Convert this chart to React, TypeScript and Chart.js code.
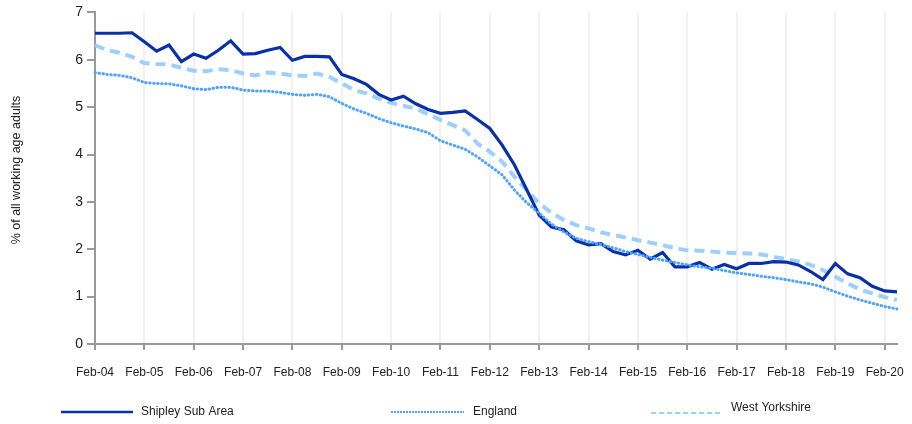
import React, { useEffect, useRef } from 'react';
import { Chart, registerables } from 'chart.js';

Chart.register(...registerables);

// Categories: quarterly, Feb-04 .. May-20
const years = ['04', '05', '06', '07', '08', '09', '10', '11', '12', '13', '14', '15', '16', '17', '18', '19', '20'];
const quarters = ['Feb', 'May', 'Aug', 'Nov'];
const categories = years.flatMap((y) => quarters.map((q) => `${q}-${y}`)).slice(0, 66);

const yTitle = '% of all working age adults';
const seriesNames = ['Shipley Sub Area', 'England', 'West Yorkshire'];

const shipley = [
  6.56, 6.56, 6.56, 6.57, 6.38, 6.18, 6.31, 5.96, 6.12, 6.03,
  6.20, 6.40, 6.12, 6.13, 6.20, 6.26, 5.99, 6.07, 6.07, 6.06,
  5.69, 5.60, 5.48, 5.27, 5.15, 5.23, 5.07, 4.95, 4.87, 4.89,
  4.92, 4.74, 4.55, 4.20, 3.78, 3.25, 2.72, 2.47, 2.41, 2.18,
  2.09, 2.12, 1.95, 1.88, 1.98, 1.79, 1.93, 1.63, 1.63, 1.72,
  1.58, 1.68, 1.59, 1.70, 1.70, 1.74, 1.73, 1.67, 1.53, 1.36,
  1.70, 1.48, 1.40, 1.22, 1.12, 1.10,
];

const england = [
  5.73, 5.69, 5.67, 5.62, 5.52, 5.50, 5.49, 5.45, 5.39, 5.37,
  5.42, 5.42, 5.36, 5.34, 5.34, 5.31, 5.27, 5.25, 5.27, 5.22,
  5.08, 4.96, 4.87, 4.76, 4.67, 4.60, 4.54, 4.46, 4.29, 4.20,
  4.11, 3.95, 3.76, 3.57, 3.25, 2.98, 2.76, 2.53, 2.37, 2.23,
  2.16, 2.10, 2.03, 1.95, 1.89, 1.83, 1.77, 1.72, 1.67, 1.63,
  1.60, 1.55, 1.50, 1.47, 1.43, 1.40, 1.36, 1.31, 1.27, 1.20,
  1.10, 1.01, 0.93, 0.86, 0.79, 0.74,
];

const westYorkshire = [
  6.31, 6.20, 6.15, 6.06, 5.93, 5.91, 5.90, 5.83, 5.77, 5.76,
  5.80, 5.78, 5.71, 5.67, 5.73, 5.71, 5.67, 5.66, 5.71, 5.64,
  5.50, 5.36, 5.29, 5.18, 5.09, 5.03, 4.97, 4.85, 4.73, 4.62,
  4.51, 4.23, 4.06, 3.85, 3.53, 3.25, 2.97, 2.77, 2.62, 2.51,
  2.44, 2.36, 2.30, 2.25, 2.19, 2.14, 2.09, 2.02, 1.98, 1.97,
  1.95, 1.93, 1.92, 1.91, 1.89, 1.84, 1.79, 1.74, 1.67, 1.56,
  1.42, 1.28, 1.15, 1.07, 0.99, 0.93,
];

const COLORS = { shipley: '#0a2faa', england: '#4da3ff', west: '#9fcfff' };
const FONT = '"Liberation Sans", Arial, sans-serif';

const customDraw = {
  id: 'customDraw',
  afterDraw(chart: any) {
    const ctx = chart.ctx as CanvasRenderingContext2D;
    ctx.save();
    ctx.font = `12.5px ${FONT}`;
    ctx.fillStyle = '#222';
    ctx.textAlign = 'center';
    ctx.textBaseline = 'middle';
    ctx.translate(17, 170);
    ctx.rotate(-Math.PI / 2);
    ctx.fillText(yTitle, 0, 0);
    ctx.restore();

    const items = [
      { name: seriesNames[0], x1: 61, x2: 133, ly: 412, tx: 141, ty: 412, color: COLORS.shipley, w: 2.5, dash: [] as number[] },
      { name: seriesNames[1], x1: 391, x2: 464, ly: 412, tx: 473, ty: 412, color: COLORS.england, w: 2, dash: [2, 1] },
      { name: seriesNames[2], x1: 651, x2: 720, ly: 413, tx: 731, ty: 408, color: COLORS.west, w: 2, dash: [5, 3] },
    ];
    for (const it of items) {
      ctx.save();
      ctx.strokeStyle = it.color;
      ctx.lineWidth = it.w;
      ctx.setLineDash(it.dash);
      ctx.lineCap = 'butt';
      ctx.beginPath();
      ctx.moveTo(it.x1, it.ly);
      ctx.lineTo(it.x2, it.ly);
      ctx.stroke();
      ctx.restore();
      ctx.save();
      ctx.font = `12px ${FONT}`;
      ctx.fillStyle = '#222';
      ctx.textAlign = 'left';
      ctx.textBaseline = 'middle';
      ctx.fillText(it.name, it.tx, it.ty);
      ctx.restore();
    }
  },
};

export default function App() {
  const ref = useRef<HTMLCanvasElement | null>(null);
  useEffect(() => {
    if (!ref.current) return;
    const chart = new Chart(ref.current, {
      type: 'line',
      data: {
        labels: categories,
        datasets: [
          {
            label: seriesNames[0],
            data: shipley,
            borderColor: COLORS.shipley,
            backgroundColor: COLORS.shipley,
            borderWidth: 3.2,
            pointRadius: 0,
            tension: 0,
            order: 2,
          },
          {
            label: seriesNames[1],
            data: england,
            borderColor: COLORS.england,
            backgroundColor: COLORS.england,
            borderWidth: 3,
            borderDash: [0.5, 3.5],
            borderCapStyle: 'round',
            pointRadius: 0,
            tension: 0,
            order: 1,
          },
          {
            label: seriesNames[2],
            data: westYorkshire,
            borderColor: COLORS.west,
            backgroundColor: COLORS.west,
            borderWidth: 4,
            borderDash: [10, 6],
            pointRadius: 0,
            tension: 0,
            order: 3,
          },
        ],
      },
      options: {
        responsive: false,
        animation: false,
        layout: { padding: { left: 0, right: 11, top: 12, bottom: 0 } },
        plugins: {
          legend: { display: false },
          tooltip: { enabled: false },
          title: { display: false },
        },
        scales: {
          x: {
            type: 'category',
            offset: false,
            afterFit: (scale: any) => {
              scale.height = 80;
            },
            border: { color: '#999', width: 2 },
            grid: {
              drawOnChartArea: true,
              lineWidth: 2,
              tickLength: 6,
              color: (c: any) => (c.index % 4 === 0 && c.index > 0 ? '#f1f1f1' : 'rgba(0,0,0,0)'),
              tickColor: (c: any) => (c.index % 4 === 0 ? '#999' : 'rgba(0,0,0,0)'),
            },
            ticks: {
              autoSkip: false,
              maxRotation: 0,
              minRotation: 0,
              padding: 15,
              color: '#222',
              font: { size: 12, family: FONT },
              callback: (_v: any, i: number) => (i % 4 === 0 ? categories[i] : ''),
            },
          },
          y: {
            min: 0,
            max: 7,
            afterFit: (scale: any) => {
              scale.width = 95;
            },
            border: { color: '#999', width: 2 },
            grid: { drawOnChartArea: false, tickLength: 8, color: '#999', lineWidth: 2 },
            ticks: {
              stepSize: 1,
              padding: 4,
              color: '#222',
              font: { size: 14, family: FONT },
            },
            title: { display: false },
          },
        },
      },
      plugins: [customDraw],
    });
    return () => chart.destroy();
  }, []);
  return (
    <div style={{ position: 'fixed', left: 0, top: 0, width: 912, height: 424, background: '#fff' }}>
      <canvas ref={ref} width={912} height={424} style={{ display: 'block' }} />
    </div>
  );
}
